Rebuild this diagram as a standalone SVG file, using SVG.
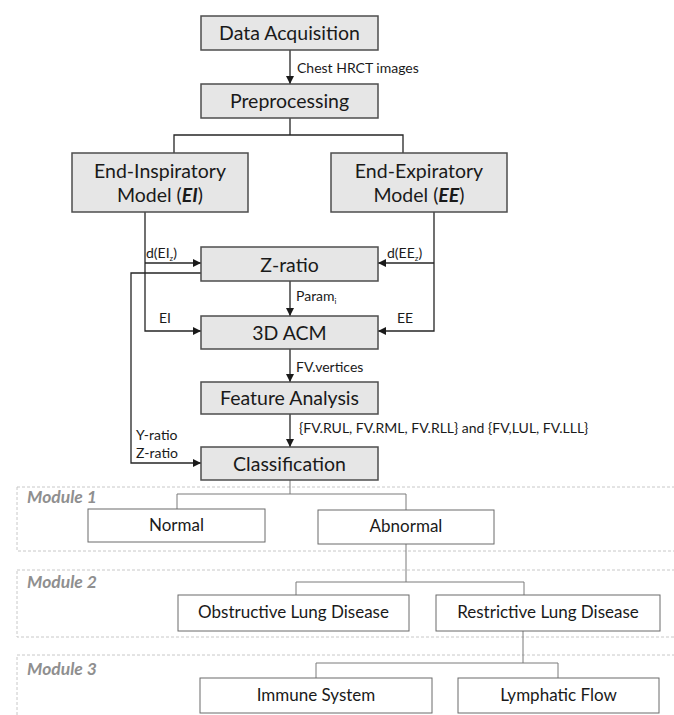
<svg xmlns="http://www.w3.org/2000/svg" width="674" height="715" viewBox="0 0 674 715">
<style>
.box{fill:#e6e6e6;stroke:#4d4d4d;stroke-width:1.5}
.wbox{fill:#fff;stroke:#6b6b6b;stroke-width:1}
.frame{fill:none;stroke:#c8c8c8;stroke-width:1;stroke-dasharray:3 2}
.t{font-family:Lato,"Liberation Sans",sans-serif;font-size:19.5px;fill:#1a1a1a;text-anchor:middle}
.lt{font-family:Lato,"Liberation Sans",sans-serif;font-size:17px;fill:#1a1a1a;text-anchor:middle}
.lab{font-family:Lato,"Liberation Sans",sans-serif;font-size:14px;fill:#1a1a1a}
.mod{font-family:Lato,"Liberation Sans",sans-serif;font-size:17.5px;font-weight:bold;font-style:italic;fill:#8f8f8f}
.c{fill:none;stroke:#262626;stroke-width:1.3}
.cl{fill:none;stroke:#7a7a7a;stroke-width:1}
</style>
<defs>
<marker id="ah" viewBox="0 0 10 10" refX="10" refY="5" markerWidth="8" markerHeight="8" markerUnits="userSpaceOnUse" orient="auto">
<path d="M0,0 L10,5 L0,10 z" fill="#1a1a1a"/>
</marker>
</defs>
<g id="frames">
<rect class="frame" x="17" y="487" width="680" height="64"/>
<rect class="frame" x="17" y="570" width="680" height="67"/>
<rect class="frame" x="17" y="655" width="680" height="70"/>
<text class="mod" x="27" y="503">Module 1</text>
<text class="mod" x="27" y="588">Module 2</text>
<text class="mod" x="27" y="675">Module 3</text>
</g>
<g id="connectors">
<path class="c" d="M290,50 V84" marker-end="url(#ah)"/>
<path class="c" d="M290,118 V135 M174,153 V135 H403 V153"/>
<path class="c" d="M145,212 V331 H201" marker-end="url(#ah)"/>
<path class="c" d="M145,263 H201" marker-end="url(#ah)"/>
<path class="c" d="M434,212 V331 H378" marker-end="url(#ah)"/>
<path class="c" d="M434,263 H378" marker-end="url(#ah)"/>
<path class="c" d="M290,281 V316" marker-end="url(#ah)"/>
<path class="c" d="M290,349 V382" marker-end="url(#ah)"/>
<path class="c" d="M290,414 V447" marker-end="url(#ah)"/>
<path class="c" d="M201,273 H131 V463 H201" marker-end="url(#ah)"/>
<path class="cl" d="M290,480 V494 M177,509 V494 H406 V510"/>
<path class="cl" d="M406,544 V582 M296,595 V582 H524 V595"/>
<path class="cl" d="M523,631 V663 M316,678 V663 H558 V678"/>
<text class="lab" x="297" y="73">Chest HRCT images</text>
<text class="lab" x="146" y="258">d(EI<tspan font-size="8" dy="3">z</tspan><tspan dy="-3">)</tspan></text>
<text class="lab" x="387" y="258">d(EE<tspan font-size="8" dy="3">z</tspan><tspan dy="-3">)</tspan></text>
<text class="lab" x="159" y="323">EI</text>
<text class="lab" x="397" y="323">EE</text>
<text class="lab" x="296" y="301">Param<tspan font-size="8" dy="3">i</tspan></text>
<text class="lab" x="296" y="372">FV.vertices</text>
<text class="lab" x="299" y="433">{FV.RUL, FV.RML, FV.RLL} and {FV,LUL, FV.LLL}</text>
<text class="lab" x="136" y="440">Y-ratio</text>
<text class="lab" x="136" y="458">Z-ratio</text>
</g>
<g id="acq"><rect class="box" x="201" y="16" width="177" height="34"/><text class="t" x="289.5" y="40">Data Acquisition</text></g>
<g id="pre"><rect class="box" x="201" y="84" width="177" height="34"/><text class="t" x="289.5" y="108">Preprocessing</text></g>
<g id="ei"><rect class="box" x="72" y="153" width="176" height="59"/><text class="t" x="160" y="178">End-Inspiratory</text><text class="t" x="160" y="202">Model (<tspan font-weight="bold" font-style="italic">EI</tspan>)</text></g>
<g id="ee"><rect class="box" x="331" y="153" width="176" height="59"/><text class="t" x="419" y="178">End-Expiratory</text><text class="t" x="419" y="202">Model (<tspan font-weight="bold" font-style="italic">EE</tspan>)</text></g>
<g id="zratio"><rect class="box" x="201" y="247" width="177" height="34"/><text class="t" x="289.5" y="271.5">Z-ratio</text></g>
<g id="acm"><rect class="box" x="201" y="316" width="177" height="33"/><text class="t" x="289.5" y="340">3D ACM</text></g>
<g id="fa"><rect class="box" x="201" y="382" width="177" height="32"/><text class="t" x="289.5" y="405">Feature Analysis</text></g>
<g id="cls"><rect class="box" x="201" y="447" width="177" height="33"/><text class="t" x="289.5" y="470.5">Classification</text></g>
<g id="normal"><rect class="wbox" x="88" y="509" width="177" height="33"/><text class="lt" x="176.5" y="531">Normal</text></g>
<g id="abnormal"><rect class="wbox" x="318" y="510" width="176" height="34"/><text class="lt" x="406" y="532">Abnormal</text></g>
<g id="obstructive"><rect class="wbox" x="178" y="595" width="231" height="36"/><text class="lt" x="293.5" y="618">Obstructive Lung Disease</text></g>
<g id="restrictive"><rect class="wbox" x="436" y="595" width="224" height="36"/><text class="lt" x="548" y="618">Restrictive Lung Disease</text></g>
<g id="immune"><rect class="wbox" x="200" y="678" width="232" height="35"/><text class="lt" x="316" y="701">Immune System</text></g>
<g id="lymphatic"><rect class="wbox" x="458" y="678" width="201" height="35"/><text class="lt" x="558.5" y="701">Lymphatic Flow</text></g>
</svg>
